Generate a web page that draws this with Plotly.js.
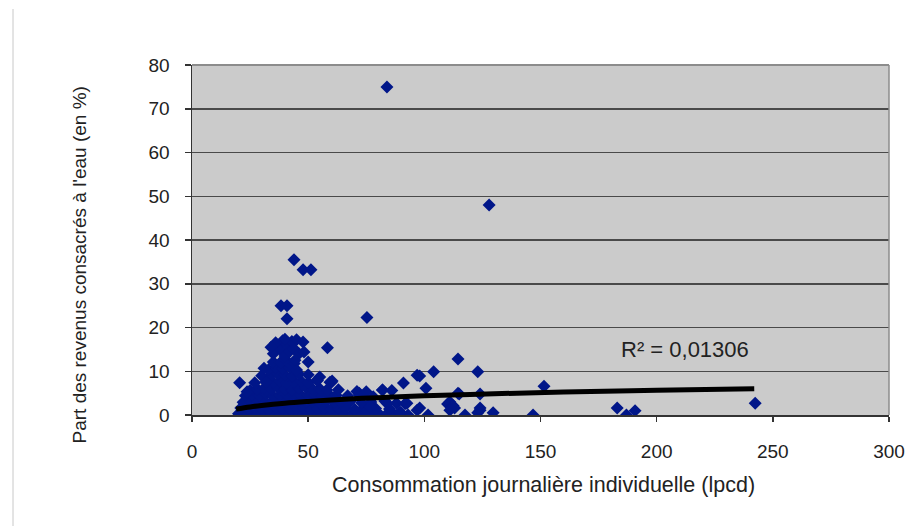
<!DOCTYPE html>
<html>
<head>
<meta charset="utf-8">
<script src="https://cdn.plot.ly/plotly-3.0.1.min.js"></script>
<style>
html,body{margin:0;padding:0;background:#fff;}
#chart{width:908px;height:526px;}
</style>
</head>
<body>
<div id="chart"></div>
<script>
// Consommation journalière individuelle (lpcd) and part des revenus consacrés à l'eau (%)
const consX = [
  // bottom row
  20,22,24,26,28,30,32,34,36,38,40,42,44,46,48,50,52,54,56,58,60,62,64,66,69,72,75,78,81,84,87,90,93,
  // row ~1.5
  21,24,27,30,33,36,39,42,45,48,51,54,57,60,63,66,70,74,79,85,
  // row ~3
  22,25,28,31,34,37,40,43,46,49,52,55,58,61,64,68,73,77,83,88,
  // row ~4.5
  23,26,29,32,35,38,41,44,47,50,53,56,59,62,67,72,78,
  // row ~6
  25,28,31,34,37,40,43,46,49,52,55,58,63,71,82,
  // row ~7.5
  27,32,35,38,41,44,47,50,54,60,
  // row ~9
  30,34,37,40,43,46,50,55,
  // row ~10.5 / 12
  33,36,39,42,45,35,38,41,44,
  // upper cluster
  35,37,38,39,40,41,42,43,44,45,46,36,40,34,47.8,48.2,50,44.3,58.3,
  // scattered
  20.5,31,31.9,23.7,59.4,60.3,53.8,
  72,75,82,86,91,91.7,92.5,84,89.5,76.6,
  96.9,96.9,98,98,100.7,101.6,104,110,111,112.4,111,113,114.5,114.5,115,117.5,
  123,124,124,123,124,129.6,146.8,151.5,183,187,190.7,242.4,89.5,
  // high outliers
  83.9,127.9,43.9,47.8,51.2,38.3,40.9,40.9,75.3
];
const partY = [
  // bottom row
  0.3,0.1,0.5,0.2,0.0,0.4,0.1,0.3,0.0,0.2,0.5,0.1,0.3,0.0,0.4,0.2,0.1,0.3,0.0,0.5,0.2,0.1,0.4,0.0,0.3,0.1,0.5,0.2,0.0,0.3,0.1,0.4,0.0,
  // row ~1.5
  1.6,1.4,1.7,1.5,1.3,1.8,1.5,1.4,1.6,1.7,1.3,1.5,1.8,1.4,1.6,1.5,1.3,1.7,1.5,1.4,
  // row ~3
  2.9,3.1,3.0,3.2,2.8,3.1,3.0,2.9,3.3,3.0,3.1,2.8,3.2,3.0,2.9,3.1,2.8,3.0,3.2,2.7,
  // row ~4.5
  4.4,4.6,4.5,4.7,4.3,4.6,4.5,4.8,4.4,4.6,4.5,4.3,4.7,4.5,4.4,4.6,4.2,
  // row ~6
  5.6,6.0,6.1,5.9,6.2,6.0,5.8,6.1,6.3,5.9,6.0,5.7,5.8,5.4,5.7,
  // row ~7.5
  7.4,7.6,7.5,7.8,7.3,7.6,7.7,7.4,7.9,7.5,
  // row ~9
  9.0,9.2,9.3,9.1,8.9,9.4,9.2,8.7,
  // row ~10.5 / 12
  10.4,10.8,10.6,10.9,10.3,12.1,12.0,12.3,11.8,
  // upper cluster
  14.0,16.0,15.0,17.0,13.5,16.1,14.5,16.8,15.1,17.2,14.0,16.5,17.3,15.5,16.7,14.4,12.1,12.5,15.4,
  // scattered
  7.4,10.7,7.5,5.3,7.5,7.8,8.0,
  5.0,5.3,5.7,5.6,7.3,2.6,2.7,2.7,0.5,1.8,
  9.1,1.1,1.6,8.9,6.1,0.0,9.9,2.5,3.0,2.1,1.1,1.6,12.8,5.0,4.8,0.0,
  9.9,4.8,1.6,0.5,1.1,0.5,0.0,6.6,1.6,0.0,1.0,2.7,0.7,
  // high outliers
  75.0,48.0,35.5,33.2,33.2,25.0,25.0,22.0,22.3
];
// Logarithmic trend line
const trendX = [19,25,30,40,50,60,80,100,130,160,200,242];
const trendY = [1.35,1.85,2.18,2.71,3.11,3.45,3.97,4.38,4.86,5.24,5.65,5.99];
const r2Label = 'R² = 0,01306';
const xTicks = [0,50,100,150,200,250,300];
const yTicks = [0,10,20,30,40,50,60,70,80];

const FONT = '"Liberation Sans", Arial, "Helvetica Neue", sans-serif';

const traces = [
  {
    type: 'scatter', mode: 'markers', x: consX, y: partY,
    marker: {symbol: 'diamond', size: 10, color: '#001689', line: {width: 0}},
    hoverinfo: 'x+y', cliponaxis: true
  },
  {
    type: 'scatter', mode: 'lines', x: trendX, y: trendY,
    line: {color: '#000000', width: 5, shape: 'spline'},
    hoverinfo: 'skip'
  }
];

const layout = {
  width: 908, height: 526,
  margin: {l: 192, r: 19, t: 65, b: 111, pad: 0},
  paper_bgcolor: '#ffffff',
  plot_bgcolor: '#cbcbcb',
  showlegend: false,
  font: {family: FONT, color: '#222222'},
  xaxis: {
    range: [0, 300], tickvals: xTicks, ticktext: xTicks.map(String),
    showgrid: false, zeroline: false,
    showline: true, linecolor: '#333333', linewidth: 1.5,
    ticks: 'outside', ticklen: 5, tickwidth: 1.5, tickcolor: '#333333',
    tickfont: {family: FONT, size: 19, color: '#222222'},
    ticklabelstandoff: 14, fixedrange: true
  },
  yaxis: {
    range: [0, 80], tickvals: yTicks, ticktext: yTicks.map(String),
    showgrid: true, gridcolor: '#4a4a4a', gridwidth: 1.5,
    zeroline: false,
    showline: true, linecolor: '#333333', linewidth: 1.5,
    ticks: 'outside', ticklen: 6, tickwidth: 1.5, tickcolor: '#333333',
    tickfont: {family: FONT, size: 19, color: '#222222'},
    ticklabelstandoff: 11, fixedrange: true
  },
  shapes: [
    {type: 'line', xref: 'paper', yref: 'paper', x0: 0, x1: 1, y0: 1, y1: 1,
     line: {color: '#8c8c8c', width: 2}},
    {type: 'line', xref: 'paper', yref: 'paper', x0: 1, x1: 1, y0: 0, y1: 1,
     line: {color: '#8c8c8c', width: 1.5}},
    {type: 'line', xref: 'paper', yref: 'paper', x0: -0.2568, x1: -0.2568, y0: 1.16, y1: -0.32,
     line: {color: '#c8c8c8', width: 1}}
  ],
  annotations: [
    {text: r2Label, x: 212, y: 14.9, xref: 'x', yref: 'y', showarrow: false,
     xanchor: 'center', yanchor: 'middle', font: {family: FONT, size: 22, color: '#222222'}},
    {text: 'Consommation journalière individuelle (lpcd)', xref: 'paper', yref: 'paper',
     x: 0.5036, y: -0.2, xanchor: 'center', yanchor: 'middle', showarrow: false,
     font: {family: FONT, size: 21.5, color: '#222222'}},
    {text: "Part des revenus consacrés à l'eau (en %)", xref: 'paper', yref: 'paper',
     x: -0.1607, y: 0.43, xanchor: 'center', yanchor: 'middle', textangle: -90, showarrow: false,
     font: {family: FONT, size: 19, color: '#222222'}}
  ]
};

Plotly.newPlot('chart', traces, layout, {displayModeBar: false, staticPlot: true});
</script>
</body>
</html>
